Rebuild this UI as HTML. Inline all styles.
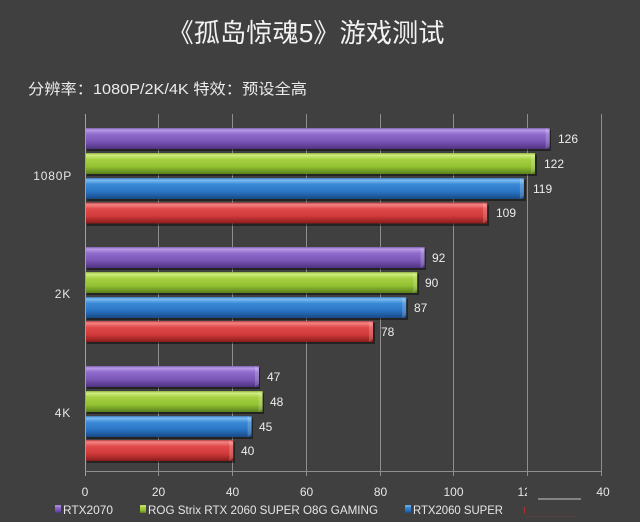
<!DOCTYPE html>
<html>
<head>
<meta charset="utf-8">
<style>
  html,body{margin:0;padding:0;background:#404040;}
  svg{display:block;}
  text{font-family:"Liberation Sans","Noto Sans CJK SC",sans-serif;}
</style>
</head>
<body>
<svg width="640" height="522" viewBox="0 0 640 522" xmlns="http://www.w3.org/2000/svg">
  <defs>
    <linearGradient id="gP" x1="0" y1="0" x2="0" y2="1">
      <stop offset="0" stop-color="#7d5fb0"/>
      <stop offset="0.1" stop-color="#b89ae6"/>
      <stop offset="0.3" stop-color="#8f6bcb"/>
      <stop offset="0.65" stop-color="#7a55b5"/>
      <stop offset="1" stop-color="#4e3280"/>
    </linearGradient>
    <linearGradient id="gG" x1="0" y1="0" x2="0" y2="1">
      <stop offset="0" stop-color="#8fb040"/>
      <stop offset="0.1" stop-color="#d0ee80"/>
      <stop offset="0.3" stop-color="#a6d042"/>
      <stop offset="0.65" stop-color="#92c232"/>
      <stop offset="1" stop-color="#5a801c"/>
    </linearGradient>
    <linearGradient id="gB" x1="0" y1="0" x2="0" y2="1">
      <stop offset="0" stop-color="#3b78b8"/>
      <stop offset="0.1" stop-color="#7cbcf2"/>
      <stop offset="0.3" stop-color="#3b8ad6"/>
      <stop offset="0.65" stop-color="#2a74c4"/>
      <stop offset="1" stop-color="#184a86"/>
    </linearGradient>
    <linearGradient id="gR" x1="0" y1="0" x2="0" y2="1">
      <stop offset="0" stop-color="#b84444"/>
      <stop offset="0.1" stop-color="#f48484"/>
      <stop offset="0.3" stop-color="#e04a4a"/>
      <stop offset="0.65" stop-color="#d03a3a"/>
      <stop offset="1" stop-color="#8a1c1c"/>
    </linearGradient>
  </defs>

  <rect width="640" height="522" fill="#404040"/>

  <!-- Title -->
  <text x="306" y="42" text-anchor="middle" font-size="26" fill="#f2f2f2" textLength="277" lengthAdjust="spacingAndGlyphs" style="font-family:'Liberation Sans','Noto Sans CJK SC',sans-serif;">《孤岛惊魂5》游戏测试</text>

  <!-- Subtitle -->
  <text x="28" y="94" font-size="15" fill="#ececec" textLength="279" lengthAdjust="spacingAndGlyphs">分辨率：1080P/2K/4K 特效：预设全高</text>

  <!-- Grid lines -->
  <g stroke="#8e8e8e" stroke-width="1">
    <line x1="158.5" y1="114" x2="158.5" y2="476"/>
    <line x1="232.5" y1="114" x2="232.5" y2="476"/>
    <line x1="306.5" y1="114" x2="306.5" y2="476"/>
    <line x1="380.5" y1="114" x2="380.5" y2="476"/>
    <line x1="453.5" y1="114" x2="453.5" y2="476"/>
    <line x1="527.5" y1="114" x2="527.5" y2="476"/>
    <line x1="601.5" y1="114" x2="601.5" y2="476"/>
  </g>
  <line x1="85.5" y1="114" x2="85.5" y2="476" stroke="#a0a0a0" stroke-width="1"/>
  <line x1="85" y1="471.5" x2="602" y2="471.5" stroke="#8e8e8e" stroke-width="1"/>

  <!-- Category labels -->
  <g font-size="12" fill="#e6e6e6" text-anchor="end" letter-spacing="0.8">
    <text x="72" y="180">1080P</text>
    <text x="71" y="298">2K</text>
    <text x="71" y="417">4K</text>
  </g>

  <!-- Bars: shadows -->
  <g fill="#000" opacity="0.45">
    <rect x="87" y="130" width="464" height="21"/>
    <rect x="87" y="155" width="450" height="21"/>
    <rect x="87" y="180" width="439" height="21"/>
    <rect x="87" y="205" width="402" height="21"/>
    <rect x="87" y="249" width="339" height="21"/>
    <rect x="87" y="274" width="332" height="21"/>
    <rect x="87" y="299" width="321" height="21"/>
    <rect x="87" y="323" width="288" height="21"/>
    <rect x="87" y="368" width="173" height="21"/>
    <rect x="87" y="393" width="177" height="21"/>
    <rect x="87" y="418" width="166" height="21"/>
    <rect x="87" y="442" width="148" height="21"/>
  </g>

  <!-- Bars -->
  <g>
    <rect x="86" y="128" width="463.7" height="21" fill="url(#gP)"/>
    <rect x="86" y="153" width="449" height="21" fill="url(#gG)"/>
    <rect x="86" y="178" width="437.9" height="21" fill="url(#gB)"/>
    <rect x="86" y="202.5" width="401.1" height="21" fill="url(#gR)"/>

    <rect x="86" y="247" width="338.6" height="21" fill="url(#gP)"/>
    <rect x="86" y="272" width="331.2" height="21" fill="url(#gG)"/>
    <rect x="86" y="297" width="320.2" height="21" fill="url(#gB)"/>
    <rect x="86" y="321" width="287" height="21" fill="url(#gR)"/>

    <rect x="86" y="366" width="173" height="21" fill="url(#gP)"/>
    <rect x="86" y="391" width="176.6" height="21" fill="url(#gG)"/>
    <rect x="86" y="416" width="165.6" height="21" fill="url(#gB)"/>
    <rect x="86" y="440" width="147.2" height="21" fill="url(#gR)"/>
  </g>

  <!-- Bevel ends -->
  <g fill="#fff" opacity="0.18">
    <polygon points="545.7,128 549.7,131 549.7,146 545.7,149"/>
    <polygon points="531,153 535,156 535,171 531,174"/>
    <polygon points="519.9,178 523.9,181 523.9,196 519.9,199"/>
    <polygon points="483.1,202.5 487.1,205.5 487.1,220.5 483.1,223.5"/>
    <polygon points="420.6,247 424.6,250 424.6,265 420.6,268"/>
    <polygon points="413.2,272 417.2,275 417.2,290 413.2,293"/>
    <polygon points="402.2,297 406.2,300 406.2,315 402.2,318"/>
    <polygon points="369,321 373,324 373,339 369,342"/>
    <polygon points="255,366 259,369 259,384 255,387"/>
    <polygon points="258.6,391 262.6,394 262.6,409 258.6,412"/>
    <polygon points="247.6,416 251.6,419 251.6,434 247.6,437"/>
    <polygon points="229.2,440 233.2,443 233.2,458 229.2,461"/>
  </g>

  <!-- Value labels -->
  <g font-size="12" fill="#ececec">
    <text x="558" y="143">126</text>
    <text x="544" y="168">122</text>
    <text x="533" y="193">119</text>
    <text x="496" y="217">109</text>
    <text x="432" y="262">92</text>
    <text x="425" y="287">90</text>
    <text x="414" y="312">87</text>
    <text x="381" y="336">78</text>
    <text x="267" y="381">47</text>
    <text x="270" y="406">48</text>
    <text x="259" y="431">45</text>
    <text x="241" y="455">40</text>
  </g>

  <!-- Axis tick labels -->
  <g font-size="12" fill="#e6e6e6" text-anchor="middle">
    <text x="85" y="496">0</text>
    <text x="158.5" y="496">20</text>
    <text x="232.5" y="496">40</text>
    <text x="306.5" y="496">60</text>
    <text x="380.5" y="496">80</text>
    <text x="453.5" y="496">100</text>
    <text x="527.5" y="496">120</text>
    <text x="603" y="496">40</text>
  </g>

  <!-- Overlay patch (cut-off region) -->
  <rect x="527" y="478" width="68" height="44" fill="#404040"/>
  <line x1="538" y1="499" x2="581" y2="499" stroke="#9a9a9a" stroke-width="1.5"/>
  <line x1="524.5" y1="507" x2="524.5" y2="514" stroke="#b03030" stroke-width="1"/>
  <line x1="526" y1="516.5" x2="575" y2="516.5" stroke="#704040" stroke-width="1" opacity="0.5"/>

  <!-- Legend -->
  <rect x="55" y="505" width="6" height="8" fill="url(#gP)"/>
  <text x="63" y="514" font-size="12" fill="#e6e6e6" textLength="50" lengthAdjust="spacingAndGlyphs">RTX2070</text>
  <rect x="140" y="505" width="6" height="8" fill="url(#gG)"/>
  <text x="148" y="514" font-size="12" fill="#e6e6e6" textLength="230" lengthAdjust="spacingAndGlyphs">ROG Strix RTX 2060 SUPER O8G GAMING</text>
  <rect x="405" y="505" width="6" height="8" fill="url(#gB)"/>
  <text x="413" y="514" font-size="12" fill="#e6e6e6" textLength="90" lengthAdjust="spacingAndGlyphs">RTX2060 SUPER</text>
</svg>
</body>
</html>
